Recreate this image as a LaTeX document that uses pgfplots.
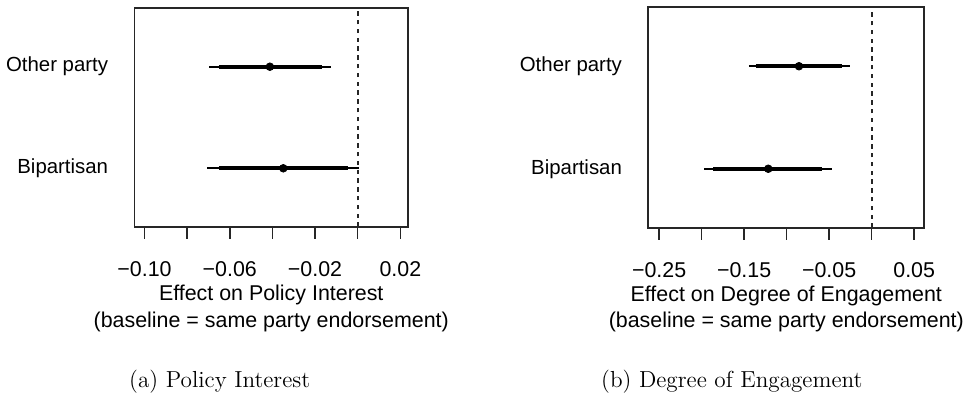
\documentclass[border=0pt]{standalone}
\usepackage{fontspec}
\newfontfamily\arial{Liberation Sans}
\usepackage{pgfplots}
\pgfplotsset{compat=1.18}
\begin{document}
\begin{tikzpicture}
\useasboundingbox (0,0) rectangle (486.5pt,198.5pt);
\pgfplotsset{
 eff/.style={
  scale only axis, anchor=south west,
  ymin=0.425, ymax=2.575,
  ytick={1,2}, yticklabels={Bipartisan,Other party},
  ytick style={draw=none},
  tick align=outside, major tick length=6pt,
  xtick pos=lower, ytick pos=left,
  xtick style={black!85, line width=0.8pt},
  axis line style={black!85, line width=0.85pt},
  font=\arial\fontsize{10.7}{13.2}\selectfont,
  yticklabel style={font=\arial\fontsize{10.2}{12}\selectfont, inner sep=0pt, anchor=east, xshift=-7pt},
  xticklabel style={inner sep=0pt, anchor=north, yshift=-11pt},
  xlabel style={align=center, at={(axis description cs:0.5,0)}, anchor=north, yshift=-29pt, inner sep=0pt},
  clip=false,
 },
 thinci/.style={line width=0.85pt, black},
 thickci/.style={line width=2.1pt, black},
 est/.style={only marks, mark=*, mark size=1.9pt, black},
 zero/.style={line width=0.9pt, dash pattern=on 2.2pt off 2.2pt, black!85},
}
\begin{axis}[eff,
  at={(67.25pt,85.15pt)}, width=136.75pt, height=109.2pt,
  xmin=-0.1047, xmax=0.0236,
  xtick={-0.10,-0.08,-0.06,-0.04,-0.02,0,0.02},
  xticklabels={−0.10,{},−0.06,{},−0.02,{},0.02},
  xlabel={Effect on Policy Interest\\(baseline = same party endorsement)}]
\addplot[zero] coordinates {(0,0.425) (0,2.575)};
\addplot[thinci] coordinates {(-0.0697,2) (-0.0124,2)};
\addplot[thickci] coordinates {(-0.0651,2) (-0.0169,2)};
\addplot[thinci] coordinates {(-0.0706,1) (0.0008,1)};
\addplot[thickci] coordinates {(-0.0651,1) (-0.0044,1)};
\addplot[est] coordinates {(-0.0412,2) (-0.0349,1)};
\end{axis}
\begin{axis}[eff,
  at={(324.15pt,84.65pt)}, width=138pt, height=110.2pt,
  xmin=-0.2627, xmax=0.0619,
  xtick={-0.25,-0.20,-0.15,-0.10,-0.05,0,0.05},
  xticklabels={−0.25,{},−0.15,{},−0.05,{},0.05},
  xlabel={Effect on Degree of Engagement\\(baseline = same party endorsement)}]
\addplot[zero] coordinates {(0,0.425) (0,2.575)};
\addplot[thinci] coordinates {(-0.1443,2) (-0.0255,2)};
\addplot[thickci] coordinates {(-0.1363,2) (-0.0346,2)};
\addplot[thinci] coordinates {(-0.1969,1) (-0.0471,1)};
\addplot[thickci] coordinates {(-0.1863,1) (-0.0588,1)};
\addplot[est] coordinates {(-0.0855,2) (-0.1216,1)};
\end{axis}
\node[font=\fontsize{11.6}{14}\selectfont, inner sep=0pt] at (109.85pt,7.65pt) {(a) Policy Interest};
\node[font=\fontsize{11.6}{14}\selectfont, inner sep=0pt] at (365.9pt,7.65pt) {(b) Degree of Engagement};
\end{tikzpicture}
\end{document}
